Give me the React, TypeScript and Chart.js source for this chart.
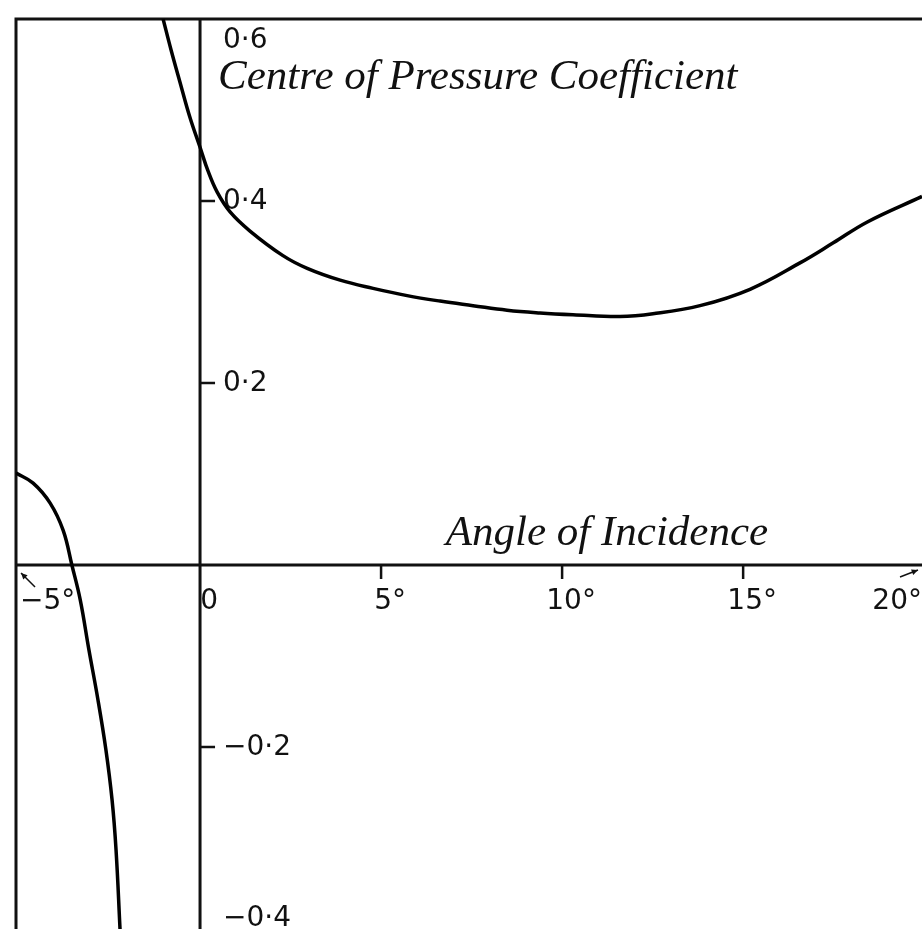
import React, { useEffect, useRef } from "react";
import { Chart, registerables } from "chart.js";

Chart.register(...registerables);

// Angle of incidence (degrees) and centre of pressure coefficient
const leftBranchAngle = [-5.08, -4.61, -4.14, -3.78, -3.54, -3.31, -3.07, -2.82, -2.6, -2.43, -2.32, -2.21];
const leftBranchCoeff = [0.101, 0.09, 0.068, 0.038, 0.0, -0.038, -0.093, -0.148, -0.203, -0.258, -0.313, -0.4];

const rightBranchAngle = [-1.02, -0.8, -0.55, -0.28, 0, 0.22, 0.47, 0.83, 1.38, 2.29, 2.96, 3.87, 4.78, 5.72, 6.63, 7.54, 8.48, 9.39, 10.3, 11.6, 12.51, 13.81, 15.19, 16.57, 17.49, 18.43, 19.94];
const rightBranchCoeff = [0.6, 0.566, 0.53, 0.492, 0.459, 0.433, 0.41, 0.388, 0.367, 0.34, 0.326, 0.313, 0.304, 0.296, 0.29, 0.285, 0.28, 0.277, 0.275, 0.273, 0.276, 0.285, 0.303, 0.332, 0.354, 0.377, 0.405];

const xTicks = [-5, 0, 5, 10, 15, 20];
const xTickLabels = ["\u22125\u00b0", "0", "5\u00b0", "10\u00b0", "15\u00b0", "20\u00b0"];
const yTicks = [0.6, 0.4, 0.2, -0.2, -0.4];
const yTickLabels = ["0\u00b76", "0\u00b74", "0\u00b72", "\u22120\u00b72", "\u22120\u00b74"];

const yTitle = "Centre of Pressure Coefficient";
const xTitle = "Angle of Incidence";

const X_MIN = -5.083;
const X_MAX = 19.94;
const Y_MIN = -0.4;
const Y_MAX = 0.6;

const INK = "#111";
const TICK_FONT = "28px 'DejaVu Sans'";
const TITLE_FONT = "italic 43px 'Liberation Serif'";

const toPoints = (xs: number[], ys: number[]) => xs.map((x, i) => ({ x, y: ys[i] }));

const axesPlugin = {
  id: "handAxes",
  beforeDatasetsDraw(chart: any) {
    const { ctx, chartArea, scales } = chart;
    const xs = scales.x;
    const ys = scales.y;
    const { left, right, top, bottom } = chartArea;
    const x0 = xs.getPixelForValue(0);
    const y0 = ys.getPixelForValue(0);
    ctx.save();
    ctx.strokeStyle = INK;
    ctx.lineWidth = 3;
    ctx.lineCap = "butt";
    // frame: top and left
    ctx.beginPath();
    ctx.moveTo(left, bottom);
    ctx.lineTo(left, top);
    ctx.lineTo(right, top);
    ctx.stroke();
    // axes
    ctx.beginPath();
    ctx.moveTo(x0, top);
    ctx.lineTo(x0, bottom);
    ctx.moveTo(left, y0);
    ctx.lineTo(right, y0);
    ctx.stroke();
    // ticks
    ctx.lineWidth = 2.5;
    ctx.beginPath();
    xTicks.forEach((v) => {
      const p = xs.getPixelForValue(v);
      if (v !== 0 && p > left + 5 && p < right - 5) {
        ctx.moveTo(p, y0);
        ctx.lineTo(p, y0 + 14);
      }
    });
    yTicks.forEach((v) => {
      const p = ys.getPixelForValue(v);
      if (v !== 0 && p > top + 5 && p < bottom - 5) {
        ctx.moveTo(x0, p);
        ctx.lineTo(x0 + 15, p);
      }
    });
    ctx.stroke();
    // small arrows at the axis ends
    const drawArrow = (fx: number, fy: number, tx: number, ty: number) => {
      ctx.lineWidth = 1.5;
      ctx.beginPath();
      ctx.moveTo(fx, fy);
      ctx.lineTo(tx, ty);
      ctx.stroke();
      const a = Math.atan2(ty - fy, tx - fx);
      const h = 7;
      ctx.beginPath();
      ctx.moveTo(tx, ty);
      ctx.lineTo(tx - h * Math.cos(a - 0.45), ty - h * Math.sin(a - 0.45));
      ctx.lineTo(tx - h * Math.cos(a + 0.45), ty - h * Math.sin(a + 0.45));
      ctx.closePath();
      ctx.fillStyle = INK;
      ctx.fill();
    };
    const xm5 = xs.getPixelForValue(-5);
    drawArrow(xm5 + 16, y0 + 22, xm5 + 2, y0 + 8);
    drawArrow(right - 22, y0 + 12, right - 4, y0 + 5);
    // tick labels
    ctx.fillStyle = INK;
    ctx.font = TICK_FONT;
    ctx.textBaseline = "middle";
    ctx.textAlign = "center";
    xTicks.forEach((v, i) => {
      const label = xTickLabels[i];
      const w = ctx.measureText(label).width;
      let c = xs.getPixelForValue(v) + 9;
      c = Math.max(left + 4 + w / 2, Math.min(right - w / 2, c));
      ctx.fillText(label, c, y0 + 37);
    });
    ctx.textAlign = "left";
    yTicks.forEach((v, i) => {
      let p = ys.getPixelForValue(v);
      p = Math.max(top + 21, Math.min(bottom - 11, p));
      ctx.fillText(yTickLabels[i], x0 + 23, p + 1);
    });
    // titles
    ctx.font = TITLE_FONT;
    ctx.textBaseline = "alphabetic";
    ctx.textAlign = "left";
    ctx.fillText(yTitle, x0 + 18, top + 70);
    ctx.textAlign = "right";
    ctx.fillText(xTitle, xs.getPixelForValue(15.69), y0 - 20);
    ctx.restore();
  },
};

export default function App() {
  const ref = useRef<HTMLCanvasElement | null>(null);
  useEffect(() => {
    if (!ref.current) return;
    const chart = new Chart(ref.current, {
      type: "line",
      data: {
        datasets: [
          {
            data: toPoints(leftBranchAngle, leftBranchCoeff),
            borderColor: "#000",
            borderWidth: 3.5,
            pointRadius: 0,
            fill: false,
            tension: 0.4,
          },
          {
            data: toPoints(rightBranchAngle, rightBranchCoeff),
            borderColor: "#000",
            borderWidth: 3.5,
            pointRadius: 0,
            fill: false,
            tension: 0.4,
          },
        ],
      },
      options: {
        animation: false,
        responsive: false,
        maintainAspectRatio: false,
        devicePixelRatio: 1,
        layout: { padding: { left: 16, top: 19, right: 0, bottom: 0 } },
        plugins: { legend: { display: false }, tooltip: { enabled: false }, title: { display: false } },
        events: [],
        scales: {
          x: { type: "linear", min: X_MIN, max: X_MAX, display: false },
          y: { type: "linear", min: Y_MIN, max: Y_MAX, display: false },
        },
      },
      plugins: [axesPlugin],
    });
    return () => chart.destroy();
  }, []);
  return (
    <div style={{ position: "absolute", left: 0, top: 0, width: 922, height: 929, background: "#fff" }}>
      <canvas ref={ref} width={922} height={929} style={{ display: "block" }} />
    </div>
  );
}
